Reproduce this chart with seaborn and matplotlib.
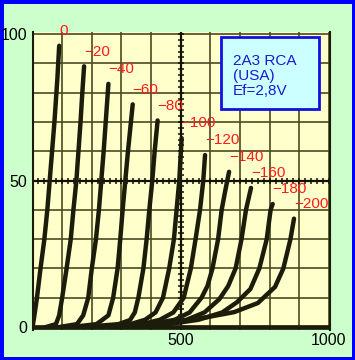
import matplotlib
matplotlib.use("Agg")
import matplotlib.pyplot as plt
from matplotlib.patches import Rectangle
import numpy as np
import pandas as pd
import seaborn as sns

# grid voltages (V) and plate curves: plate volts / plate mA
grid_labels = ["0", "−20", "−40", "−60", "−80", "−100", "−120", "−140", "−160", "−180", "−200"]

v_0 = [0, 5, 15, 27, 40, 50, 58, 66, 74, 84, 90]
i_0 = [0, 3, 10, 20, 30, 40, 50, 60, 70, 85, 96]
v_20 = [45, 79, 90, 100, 115, 129, 138, 148, 155, 162, 168, 174]
i_20 = [0, 1, 4, 10, 20, 30, 40, 50, 60, 70, 80, 89]
v_40 = [90, 150, 171, 188, 200, 214, 224, 232, 240, 247, 256]
i_40 = [0, 1, 4, 10, 20, 30, 40, 50, 60, 70, 83]
v_60 = [130, 216, 256, 272, 287, 296, 304, 313, 322, 332, 338]
i_60 = [0, 1, 4, 10, 20, 30, 40, 50, 60, 70, 76]
v_80 = [170, 290, 329, 345, 357, 374, 385, 394, 404, 412, 422]
i_80 = [0, 1, 2.4, 5, 10, 20, 30, 40, 50, 60, 70.5]
v_100 = [200, 330, 380, 415, 440, 461, 477, 486, 495, 503]
i_100 = [0, 1, 2.5, 5, 10, 20, 30, 40, 50, 64.5]
v_120 = [230, 370, 430, 475, 510, 534, 550, 565, 576, 582]
i_120 = [0, 1, 2.5, 5, 10, 20, 30, 40, 50, 58.7]
v_140 = [260, 400, 480, 530, 570, 590, 607, 626, 638, 651, 663]
i_140 = [0, 1, 2.5, 5, 10, 14, 20, 30, 40, 47, 53]
v_160 = [280, 430, 520, 580, 630, 660, 685, 705, 720, 737]
i_160 = [0, 1, 2.5, 5, 9.5, 14, 20, 30, 40, 47.5]
v_180 = [300, 460, 560, 640, 690, 735, 765, 790, 803, 810]
i_180 = [0, 1, 2.5, 5, 8.5, 13, 20, 30, 40, 42]
v_200 = [320, 480, 590, 680, 760, 818, 846, 870, 882]
i_200 = [0, 1.7, 3.4, 5.1, 8.2, 13.7, 20, 30, 37]

volts = [v_0, v_20, v_40, v_60, v_80, v_100, v_120, v_140, v_160, v_180, v_200]
amps = [i_0, i_20, i_40, i_60, i_80, i_100, i_120, i_140, i_160, i_180, i_200]

x_ticks = list(range(0, 1001, 100))
x_ticklabels = ["" if t not in (500, 1000) else str(t) for t in x_ticks]
y_ticks = list(range(0, 101, 10))
y_ticklabels = ["" if t not in (0, 50, 100) else str(t) for t in y_ticks]

info_text = "2A3 RCA\n(USA)\nEf=2,8V"

rows = []
for lab, vs, cs in zip(grid_labels, volts, amps):
    for k, (v, c) in enumerate(zip(vs, cs)):
        rows.append({"Vg": lab, "order": k, "Vp": v, "Ip": c})
df = pd.DataFrame(rows)

sns.set_theme(style="white")
plt.rcParams["font.family"] = ["Liberation Sans", "DejaVu Sans"]

fig = plt.figure(figsize=(3.55, 3.6), dpi=100, facecolor="#CCFFCC",
                 edgecolor="#0000FF", linewidth=5)
ax = fig.add_axes([32.5 / 355, 1 - 330 / 360, (330 - 32.5) / 355, (330 - 32) / 360])
ax.set_facecolor("#FFFFCC")

ink = "#1c1c0a"
grid_col = "#4a4a22"

ax.set_xlim(0, 1003.4)
ax.set_ylim(-1, 100.7)
ax.set_xticks(x_ticks)
ax.set_xticklabels(x_ticklabels)
ax.set_yticks(y_ticks)
ax.set_yticklabels(y_ticklabels)
ax.tick_params(length=0, labelsize=11.5, colors="black")
ax.tick_params(axis="y", pad=4)
ax.tick_params(axis="x", pad=2)
ax.grid(True, color=grid_col, lw=1.2)
ax.set_axisbelow(True)

for side in ["top", "bottom"]:
    ax.spines[side].set_visible(False)
for side in ["left", "right"]:
    ax.spines[side].set_color(ink)
    ax.spines[side].set_linewidth(1.5)

# centre ruler lines
ax.axvline(500, color="#111100", lw=1.6, zorder=1)
ax.axhline(50, color="#111100", lw=1.6, zorder=1)
ax.plot(np.full(51, 500), np.arange(0, 101, 2), ls="none", marker="_",
        ms=4.5, mew=1.1, color="#111100", zorder=1)
ax.plot(np.arange(0, 1001, 20), np.full(51, 50), ls="none", marker="|",
        ms=4.5, mew=1.1, color="#111100", zorder=1)

# baseline
ax.axhline(0, color=ink, lw=3.4, zorder=2)

sns.lineplot(data=df, x="Vp", y="Ip", units="Vg", estimator=None, sort=False,
             color=ink, lw=3.2, solid_capstyle="round", ax=ax, zorder=3)
ax.set_xlabel("")
ax.set_ylabel("")

for lab, vs, cs in zip(grid_labels, volts, amps):
    ax.annotate(lab, xy=(vs[-1], cs[-1]), xytext=(0, 10.5), textcoords="offset points",
                ha="left", va="center", color="#ff1a1a", fontsize=11, zorder=5)

ax.add_patch(Rectangle((636, 74.4), 330, 24.6, facecolor="#CCFFFF",
                       edgecolor="#1010e0", lw=2, zorder=4))
ax.text(676, 85.7, info_text, ha="left", va="center", color="#1a1ad0",
        fontsize=11, linespacing=1.05, zorder=5)

fig.savefig("out.png", dpi=100, facecolor=fig.get_facecolor(),
            edgecolor=fig.get_edgecolor())
